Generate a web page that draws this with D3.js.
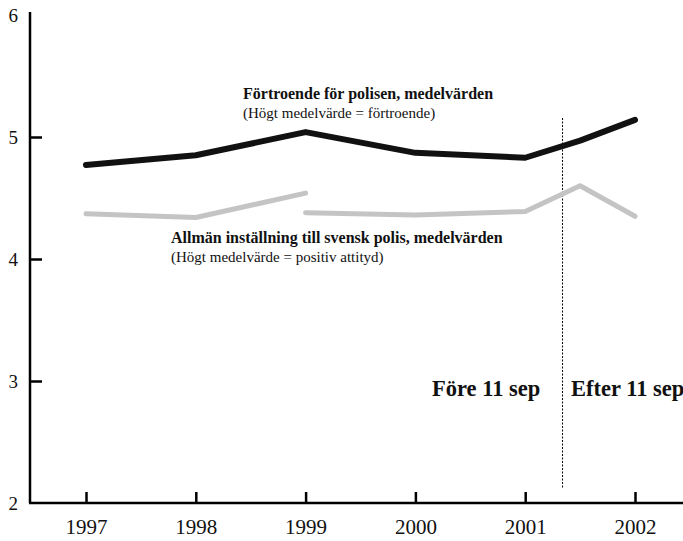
<!DOCTYPE html>
<html>
<head>
<meta charset="utf-8">
<script src="https://cdn.jsdelivr.net/npm/d3@7"></script>
<style>
  body { margin: 0; background: #fff; }
  svg text { font-family: "Liberation Serif", "Times New Roman", Times, "DejaVu Serif", serif; }
</style>
</head>
<body>
<div id="chart"></div>
<script>
// years on the x axis, plus the survey just after 11 sep 2001
var years = [1997, 1998, 1999, 2000, 2001, 2002];

// Förtroende för polisen
var trustX = [1997, 1998, 1999, 2000, 2001, 2001.5, 2002];
var trustY = [4.77, 4.85, 5.04, 4.87, 4.83, 4.97, 5.14];

// Allmän inställning, two pieces (break at 1999)
var attX1 = [1997, 1998, 1999];
var attY1 = [4.37, 4.34, 4.54];
var attX2 = [1999, 2000, 2001, 2001.5, 2002];
var attY2 = [4.38, 4.36, 4.39, 4.60, 4.35];

var yTicks = [2, 3, 4, 5, 6];
var sep11 = 2001.34;

var W = 683, H = 541;
var serif = '"Liberation Serif", "Times New Roman", Times, "DejaVu Serif", serif';

var svg = d3.select("#chart").append("svg")
    .attr("width", W).attr("height", H);

var x = d3.scaleLinear().domain([1997, 2002]).range([86, 635]);
var y = d3.scaleLinear().domain([2, 6]).range([503, 15]);

function pts(xs, ys) {
    return xs.map(function(d, i) { return [d, ys[i]]; });
}

var line = d3.line()
    .x(function(d) { return x(d[0]); })
    .y(function(d) { return y(d[1]); });

// y axis
var yAxis = d3.axisLeft(y)
    .tickValues(yTicks)
    .tickSizeInner(-12)
    .tickSizeOuter(0)
    .tickPadding(12)
    .tickFormat(d3.format("d"));

var gy = svg.append("g")
    .attr("transform", "translate(30,0)")
    .call(yAxis)
    .attr("font-family", serif);
gy.select(".domain").attr("d", "M0,12V" + y(2)).attr("stroke", "#000").attr("stroke-width", 2.5);
gy.selectAll(".tick line")
    .attr("stroke", "#000").attr("stroke-width", 2.5)
    .style("display", function(d) { return (d == 2 || d == 6) ? "none" : null; });
gy.selectAll(".tick text")
    .attr("font-size", 19).attr("fill", "#111");

// x axis
var xAxis = d3.axisBottom(x)
    .tickValues(years)
    .tickSizeInner(-11)
    .tickSizeOuter(0)
    .tickPadding(16)
    .tickFormat(d3.format("d"));

var gx = svg.append("g")
    .attr("transform", "translate(0," + y(2) + ")")
    .call(xAxis)
    .attr("font-family", serif);
gx.select(".domain").attr("d", "M29,0H" + W).attr("stroke", "#000").attr("stroke-width", 2.5);
gx.selectAll(".tick line").attr("stroke", "#000").attr("stroke-width", 2.5);
gx.selectAll(".tick text")
    .attr("font-size", 21).attr("fill", "#111");

// 11 sep marker
svg.append("line")
    .attr("x1", x(sep11)).attr("x2", x(sep11))
    .attr("y1", 118).attr("y2", 488)
    .attr("stroke", "#000").attr("stroke-width", 1)
    .attr("stroke-dasharray", "2,1.5");

// lines
[[attX1, attY1], [attX2, attY2]].forEach(function(s) {
    svg.append("path")
        .datum(pts(s[0], s[1]))
        .attr("d", line)
        .attr("fill", "none")
        .attr("stroke", "#c4c4c4")
        .attr("stroke-width", 5)
        .attr("stroke-linecap", "round")
        .attr("stroke-linejoin", "round");
});

svg.append("path")
    .datum(pts(trustX, trustY))
    .attr("d", line)
    .attr("fill", "none")
    .attr("stroke", "#111")
    .attr("stroke-width", 6)
    .attr("stroke-linecap", "round")
    .attr("stroke-linejoin", "round");

// labels
function label(tx, ty, txt, size, bold) {
    svg.append("text")
        .attr("x", tx).attr("y", ty)
        .attr("font-family", serif)
        .attr("font-size", size)
        .attr("font-weight", bold ? "bold" : "normal")
        .attr("fill", "#111")
        .text(txt);
}

label(243, 99, "Förtroende för polisen, medelvärden", 16, true);
label(243, 118, "(Högt medelvärde = förtroende)", 15, false);
label(171, 243, "Allmän inställning till svensk polis, medelvärden", 16, true);
label(171, 262, "(Högt medelvärde = positiv attityd)", 15, false);
label(432, 396, "Före 11 sep", 22.5, true);
label(571, 396, "Efter 11 sep", 22.5, true);
</script>
</body>
</html>
